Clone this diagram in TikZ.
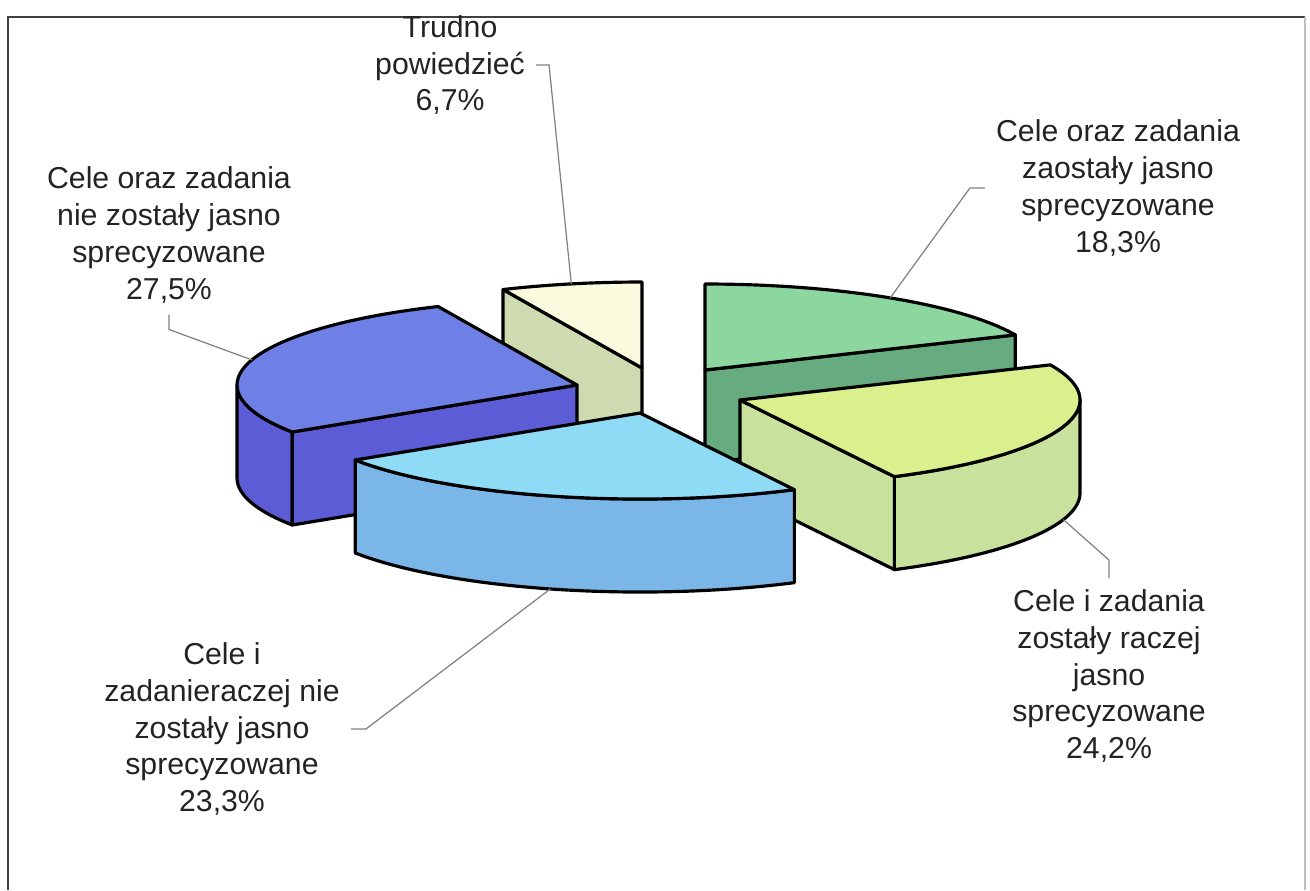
\documentclass[tikz,border=0pt]{standalone}
\usepackage{fontspec}
\setmainfont{Liberation Sans}
\usepackage{xcolor}
\usepackage{tikz}
\usetikzlibrary{calc}

\definecolor{grntop}{RGB}{140,214,160}
\definecolor{grnside}{RGB}{102,172,128}
\definecolor{limetop}{RGB}{218,240,140}
\definecolor{limeside}{RGB}{200,226,158}
\definecolor{skytop}{RGB}{143,218,245}
\definecolor{skyside}{RGB}{122,182,232}
\definecolor{bluetop}{RGB}{110,128,230}
\definecolor{blueside}{RGB}{92,92,214}
\definecolor{paletop}{RGB}{250,250,222}
\definecolor{paleside}{RGB}{206,218,176}
\definecolor{txt}{RGB}{35,35,35}

\begin{document}
\begin{tikzpicture}[x=0.01cm,y=-0.01cm,
  pieedge/.style={draw=black,line width=0.9pt,line join=round},
  lab/.style={align=center,text=txt,font=\fontsize{8.6}{10.5}\selectfont,inner sep=1pt},
  leader/.style={draw=gray,line width=0.35pt,shorten <=2pt}]

\useasboundingbox (0,0) rectangle (1310,890);

\pgfmathsetmacro{\R}{340}
\pgfmathsetmacro{\r}{86}
\pgfmathsetmacro{\H}{93}

% frame
\draw[line width=0.5pt,black!75] (8,890)--(8,17)--(1305,17);
\draw[line width=0.4pt,black!25] (1305,17)--(1305,890);

% apex of every slice
\coordinate (gC) at (705,370);  % 18,3%
\coordinate (yC) at (740,400);  % 24,2%
\coordinate (lC) at (640,413);  % 23,3%
\coordinate (bC) at (577,385);  % 27,5%
\coordinate (pC) at (642,368);  % 6,7%

% green slice
\draw[pieedge,fill=grnside] (gC) -- ++(-24.12:{\R} and {\r}) -- ++(0,\H) -- ++(155.88:{\R} and {\r}) -- cycle;
\draw[pieedge,fill=grntop] (gC) -- ++(-90:{\R} and {\r}) arc[start angle=-90,end angle=-24.12,x radius=\R,y radius=\r] -- cycle;

% pale slice
\draw[pieedge,fill=paleside] (pC) -- ++(245.88:{\R} and {\r}) -- ++(0,\H) -- ++(65.88:{\R} and {\r}) -- cycle;
\draw[pieedge,fill=paletop] (pC) -- ++(245.88:{\R} and {\r}) arc[start angle=245.88,end angle=270,x radius=\R,y radius=\r] -- cycle;

% blue slice
\draw[pieedge,fill=blueside] (bC) ++(146.88:{\R} and {\r}) arc[start angle=146.88,end angle=180,x radius=\R,y radius=\r] -- ++(0,\H) arc[start angle=180,end angle=146.88,x radius=\R,y radius=\r] -- cycle;
\draw[pieedge,fill=blueside] (bC) -- ++(146.88:{\R} and {\r}) -- ++(0,\H) -- ++(326.88:{\R} and {\r}) -- cycle;
\draw[pieedge,fill=bluetop] (bC) -- ++(146.88:{\R} and {\r}) arc[start angle=146.88,end angle=245.88,x radius=\R,y radius=\r] -- cycle;

% lime slice
\draw[pieedge,fill=limeside] (yC) ++(0:{\R} and {\r}) arc[start angle=0,end angle=63,x radius=\R,y radius=\r] -- ++(0,\H) arc[start angle=63,end angle=0,x radius=\R,y radius=\r] -- cycle;
\draw[pieedge,fill=limeside] (yC) -- ++(63:{\R} and {\r}) -- ++(0,\H) -- ++(243:{\R} and {\r}) -- cycle;
\draw[pieedge,fill=limetop] (yC) -- ++(-24.12:{\R} and {\r}) arc[start angle=-24.12,end angle=63,x radius=\R,y radius=\r] -- cycle;

% sky slice
\draw[pieedge,fill=skyside] (lC) ++(63:{\R} and {\r}) arc[start angle=63,end angle=146.88,x radius=\R,y radius=\r] -- ++(0,\H) arc[start angle=146.88,end angle=63,x radius=\R,y radius=\r] -- cycle;
\draw[pieedge,fill=skytop] (lC) -- ++(63:{\R} and {\r}) arc[start angle=63,end angle=146.88,x radius=\R,y radius=\r] -- cycle;

% where the leaders touch the slices
\coordinate (g18) at ($(gC)+(-57:{\R} and {\r})$);
\coordinate (p67) at ($(pC)+(258:{\R} and {\r})$);
\coordinate (b27) at ($(bC)+(197:{\R} and {\r})$);
\coordinate (y24) at ($(yC)+(18:{\R} and {\r})+(0,\H)$);
\coordinate (l23) at ($(lC)+(105.3:{\R} and {\r})+(0,\H)$);

% labels
\node[lab] (lab67) at (450,65) {Trudno\\powiedzieć\\6,7\%};
\node[lab] (lab18) at (1118,188) {Cele oraz zadania\\zaostały jasno\\sprecyzowane\\18,3\%};
\node[lab] (lab27) at (169,235) {Cele oraz zadania\\nie zostały jasno\\sprecyzowane\\27,5\%};
\node[lab] (lab24) at (1109,676) {Cele i zadania\\zostały raczej\\jasno\\sprecyzowane\\24,2\%};
\node[lab] (lab23) at (222,729) {Cele i\\zadanieraczej nie\\zostały jasno\\sprecyzowane\\23,3\%};

% leader lines
\draw[leader] (lab67.east) -- ++(20,0) -- (p67);
\draw[leader] (lab18.west) -- ++(-22,0) -- (g18);
\draw[leader] (lab27.south) -- ++(0,22) -- (b27);
\draw[leader] (lab24.north) -- ++(0,-25) -- (y24);
\draw[leader] (lab23.east) -- ++(22,0) -- (l23);
\end{tikzpicture}
\end{document}
